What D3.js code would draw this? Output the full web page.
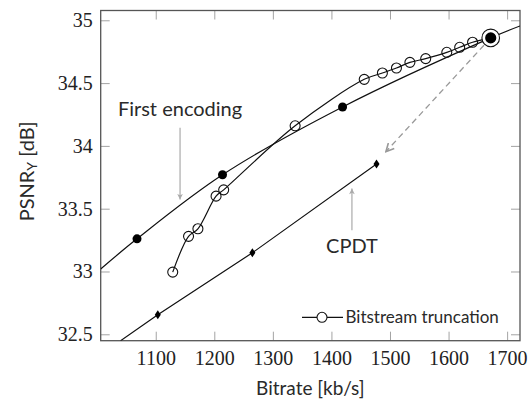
<!DOCTYPE html>
<html>
<head>
<meta charset="utf-8">
<script src="https://cdn.jsdelivr.net/npm/d3@7"></script>
<style>
  body { margin: 0; background: #fff; }
  .tick text { font-family: "Liberation Serif", serif; font-size: 20px; fill: #222; }
  .ann { font-family: Lato, "Open Sans", sans-serif; fill: #2a2a2a; }
</style>
</head>
<body>
<div id="graph"></div>
<script>
var width = 532;
var height = 401;

// first encoding: fitted curve + marked points
var firstCurveRate = [1006, 1068, 1214, 1419, 1672, 1722];
var firstCurvePsnr = [33.02, 33.26, 33.77, 34.31, 34.86, 34.955];
var firstRate = [1068, 1214, 1419];
var firstPsnr = [33.26, 33.77, 34.31];

// bitstream truncation
var truncRate = [1129, 1156, 1172, 1203, 1216, 1338, 1456, 1487, 1511, 1534, 1561, 1597, 1619, 1641, 1672];
var truncPsnr = [32.995, 33.28, 33.34, 33.60, 33.65, 34.16, 34.53, 34.58, 34.62, 34.665, 34.695, 34.745, 34.785, 34.825, 34.86];

// CPDT
var cpdtLineRate = [1040, 1103.5, 1265, 1477];
var cpdtLinePsnr = [32.449, 32.656, 33.149, 33.856];
var cpdtRate = [1103.5, 1265, 1477];
var cpdtPsnr = [32.656, 33.149, 33.856];

// common start point and the dashed move towards CPDT
var startRate = 1672, startPsnr = 34.86;
var moveRate = [1672, 1493];
var movePsnr = [34.86, 33.954];

var xTicks = [1100, 1200, 1300, 1400, 1500, 1600, 1700];
var yTicks = [32.5, 33, 33.5, 34, 34.5, 35];

var m = { left: 100.7, top: 10.5, right: 520, bottom: 340.7 };

var x = d3.scaleLinear().domain([1006, 1722]).range([m.left, m.right]);
var y = d3.scaleLinear().domain([32.449, 35.078]).range([m.bottom, m.top]);

var svg = d3.select("#graph")
  .append("svg")
    .attr("width", width)
    .attr("height", height);

var defs = svg.append("defs");
defs.append("clipPath").attr("id", "clip")
  .append("rect")
    .attr("x", m.left).attr("y", m.top)
    .attr("width", m.right - m.left).attr("height", m.bottom - m.top);

defs.append("marker")
    .attr("id", "tip")
    .attr("viewBox", "0 0 10 10")
    .attr("refX", 9).attr("refY", 5)
    .attr("markerWidth", 7).attr("markerHeight", 7)
    .attr("markerUnits", "userSpaceOnUse")
    .attr("orient", "auto")
  .append("path")
    .attr("d", "M1,1 L9,5 L1,9 L3,5 Z")
    .attr("fill", "#aaa");

defs.append("marker")
    .attr("id", "chev")
    .attr("viewBox", "0 0 10 10")
    .attr("refX", 9).attr("refY", 5)
    .attr("markerWidth", 10).attr("markerHeight", 10)
    .attr("markerUnits", "userSpaceOnUse")
    .attr("orient", "auto")
  .append("path")
    .attr("d", "M1,1 L9,5 L1,9")
    .attr("fill", "none")
    .attr("stroke", "#999")
    .attr("stroke-width", 1.6);

// axes, ticks pointing inwards on all four sides
function styleAxis(g) {
  g.select(".domain").remove();
  g.selectAll(".tick line").attr("stroke", "#999").attr("stroke-width", 0.9);
}

svg.append("g")
    .attr("transform", "translate(0," + m.bottom + ")")
    .call(d3.axisBottom(x).tickValues(xTicks).tickSize(-9).tickPadding(10).tickFormat(d3.format("d")))
    .call(styleAxis);
svg.append("g")
    .attr("transform", "translate(0," + m.top + ")")
    .call(d3.axisTop(x).tickValues(xTicks).tickSize(-9).tickFormat(""))
    .call(styleAxis);
svg.append("g")
    .attr("transform", "translate(" + m.left + ",0)")
    .call(d3.axisLeft(y).tickValues(yTicks).tickSize(-9).tickPadding(8).tickFormat(function(d) { return d; }))
    .call(styleAxis);
svg.append("g")
    .attr("transform", "translate(" + m.right + ",0)")
    .call(d3.axisRight(y).tickValues(yTicks).tickSize(-9).tickFormat(""))
    .call(styleAxis);

svg.selectAll(".tick text").attr("fill", "#222");

svg.append("rect")
    .attr("x", m.left).attr("y", m.top)
    .attr("width", m.right - m.left).attr("height", m.bottom - m.top)
    .attr("fill", "none")
    .attr("stroke", "#555")
    .attr("stroke-width", 1.3);

var plot = svg.append("g").attr("clip-path", "url(#clip)");

var line = d3.line()
    .x(function(d) { return x(d[0]); })
    .y(function(d) { return y(d[1]); })
    .curve(d3.curveCatmullRom);

function zip(a, b) { return a.map(function(v, i) { return [v, b[i]]; }); }

plot.append("path")
    .datum(zip(firstCurveRate, firstCurvePsnr))
    .attr("d", line)
    .attr("fill", "none").attr("stroke", "#111").attr("stroke-width", 1.2);

plot.append("path")
    .datum(zip(truncRate, truncPsnr))
    .attr("d", line)
    .attr("fill", "none").attr("stroke", "#111").attr("stroke-width", 1.2);

plot.append("path")
    .datum(zip(cpdtLineRate, cpdtLinePsnr))
    .attr("d", line.curve(d3.curveLinear))
    .attr("fill", "none").attr("stroke", "#111").attr("stroke-width", 1.2);

// dashed arrow from start point to CPDT
plot.append("line")
    .attr("x1", x(moveRate[0])).attr("y1", y(movePsnr[0]))
    .attr("x2", x(moveRate[1])).attr("y2", y(movePsnr[1]))
    .attr("stroke", "#999").attr("stroke-width", 1.3)
    .attr("stroke-dasharray", "6,4")
    .attr("marker-end", "url(#chev)");

plot.selectAll(".trunc")
    .data(zip(truncRate, truncPsnr).slice(0, -1))
    .enter().append("circle")
    .attr("class", "trunc")
    .attr("cx", function(d) { return x(d[0]); })
    .attr("cy", function(d) { return y(d[1]); })
    .attr("r", 5)
    .attr("fill", "none").attr("stroke", "#111").attr("stroke-width", 1.1);

plot.selectAll(".first")
    .data(zip(firstRate, firstPsnr))
    .enter().append("circle")
    .attr("class", "first")
    .attr("cx", function(d) { return x(d[0]); })
    .attr("cy", function(d) { return y(d[1]); })
    .attr("r", 4.5)
    .attr("fill", "#000");

plot.selectAll(".cpdt")
    .data(zip(cpdtRate, cpdtPsnr))
    .enter().append("path")
    .attr("class", "cpdt")
    .attr("transform", function(d) { return "translate(" + x(d[0]) + "," + y(d[1]) + ")"; })
    .attr("d", "M0,-4.5 L3,0 L0,4.5 L-3,0 Z")
    .attr("fill", "#000");

// common start point
svg.append("circle")
    .attr("cx", x(startRate)).attr("cy", y(startPsnr))
    .attr("r", 8.8)
    .attr("fill", "#fff").attr("stroke", "#111").attr("stroke-width", 1.1);
svg.append("circle")
    .attr("cx", x(startRate)).attr("cy", y(startPsnr))
    .attr("r", 5.6)
    .attr("fill", "#000");

// annotations
svg.append("text").attr("class", "ann")
    .attr("x", x(1141.5)).attr("y", y(34.237))
    .attr("text-anchor", "middle").attr("font-size", 20)
    .text("First encoding");
svg.append("line")
    .attr("x1", x(1141.5)).attr("y1", y(34.144))
    .attr("x2", x(1141.5)).attr("y2", y(33.573))
    .attr("stroke", "#aaa").attr("stroke-width", 1.2)
    .attr("marker-end", "url(#tip)");

svg.append("text").attr("class", "ann")
    .attr("x", x(1435)).attr("y", y(33.146))
    .attr("text-anchor", "middle").attr("font-size", 20)
    .text("CPDT");
svg.append("line")
    .attr("x1", x(1435)).attr("y1", y(33.328))
    .attr("x2", x(1435)).attr("y2", y(33.66))
    .attr("stroke", "#aaa").attr("stroke-width", 1.2)
    .attr("marker-end", "url(#tip)");

// legend
var lg = svg.append("g").attr("transform", "translate(302,317.3)");
lg.append("line").attr("x1", 0).attr("x2", 41).attr("y1", 0).attr("y2", 0)
    .attr("stroke", "#111").attr("stroke-width", 1.2);
lg.append("circle").attr("cx", 20).attr("cy", 0).attr("r", 5)
    .attr("fill", "#fff").attr("stroke", "#111").attr("stroke-width", 1.1);
lg.append("text").attr("class", "ann")
    .attr("x", 43.5).attr("y", 6).attr("font-size", 17)
    .text("Bitstream truncation");

// axis labels
svg.append("text").attr("class", "ann")
    .attr("x", (m.left + m.right) / 2).attr("y", 395)
    .attr("text-anchor", "middle").attr("font-size", 19)
    .text("Bitrate [kb/s]");

var yl = svg.append("text").attr("class", "ann")
    .attr("transform", "translate(33.5,171.4) rotate(-90)")
    .attr("text-anchor", "middle").attr("font-size", 20);
yl.append("tspan").text("PSNR");
yl.append("tspan").attr("font-size", 14).attr("dy", 3).text("Y");
yl.append("tspan").attr("dy", -3).text(" [dB]");
</script>
</body>
</html>
